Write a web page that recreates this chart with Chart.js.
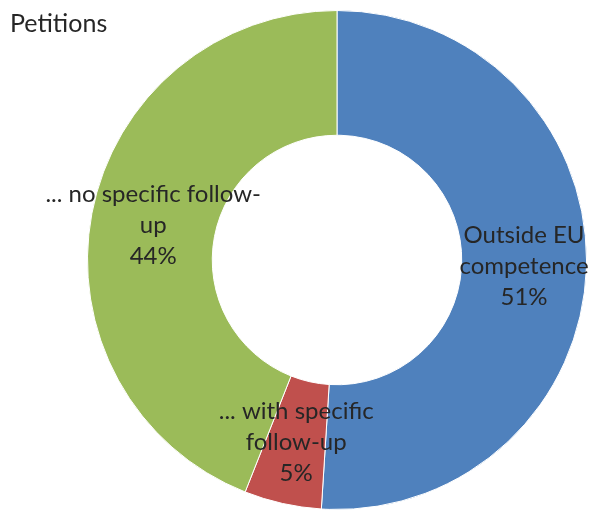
<!DOCTYPE html>
<html>
<head>
<meta charset="utf-8">
<script src="https://cdn.jsdelivr.net/npm/chart.js@4/dist/chart.umd.min.js"></script>
<style>
  html, body { margin: 0; padding: 0; background: #fff; }
  #wrap { position: relative; width: 593px; height: 511px; }
  #title {
    position: absolute; left: 10px; top: 7px;
    font-family: Lato, "Open Sans", sans-serif; font-size: 25px; color: #262626;
  }
</style>
</head>
<body>
<div id="wrap">
  <canvas id="chart" width="593" height="511"></canvas>
  <div id="title">Petitions</div>
</div>
<script>
const labels = ["Outside EU competence", "... with specific follow-up", "... no specific follow-up"];
const labelLines = [["Outside EU", "competence"], ["... with specific", "follow-up"], ["... no specific follow-", "up"]];
const values = [51, 5, 44];
const colors = ["#4F81BD", "#C0504D", "#9BBB59"];

const sliceLabels = {
  id: "sliceLabels",
  afterDatasetsDraw(chart) {
    const ctx = chart.ctx;
    const total = values.reduce((a, b) => a + b, 0);
    ctx.save();
    ctx.font = "24px Lato, 'Open Sans', sans-serif";
    ctx.fillStyle = "#262626";
    ctx.textAlign = "center";
    ctx.textBaseline = "middle";
    chart.getDatasetMeta(0).data.forEach((arc, i) => {
      const p = arc.getCenterPoint();
      const lines = labelLines[i].concat([Math.round(values[i] / total * 100) + "%"]);
      const lh = 31;
      const y0 = p.y - (lines.length - 1) * lh / 2;
      lines.forEach((t, j) => ctx.fillText(t, p.x, y0 + j * lh));
    });
    ctx.restore();
  },
};

new Chart(document.getElementById("chart"), {
  type: "doughnut",
  data: {
    labels: labels,
    datasets: [{
      data: values,
      backgroundColor: colors,
      borderColor: "#ffffff",
      borderWidth: 1,
    }],
  },
  options: {
    responsive: false,
    animation: false,
    cutout: "50%",
    layout: { padding: { left: 87, right: 6, top: 10, bottom: 1 } },
    plugins: { legend: { display: false }, tooltip: { enabled: false } },
  },
  plugins: [sliceLabels],
});
</script>
</body>
</html>
